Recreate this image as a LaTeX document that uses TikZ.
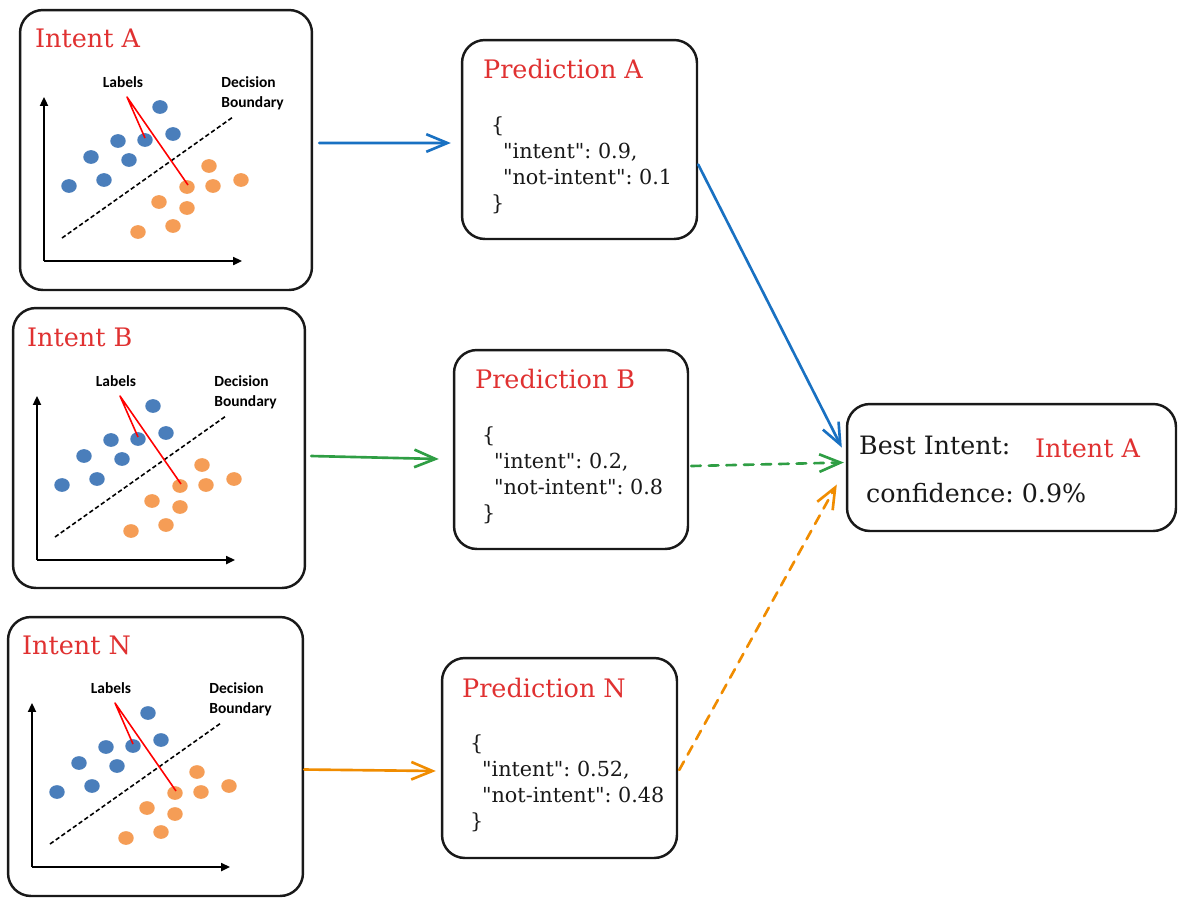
\documentclass[tikz,border=0pt]{standalone}
\usepackage{fontspec}
\setmainfont{DejaVu Serif}[Ligatures=TeXOff]
\newfontfamily\plotfont{Carlito}
\usetikzlibrary{arrows.meta,calc}
\frenchspacing
\definecolor{tred}{HTML}{E03131}
\definecolor{tblue}{HTML}{1971C2}
\definecolor{tgreen}{HTML}{2F9E44}
\definecolor{torange}{HTML}{F08C00}
\definecolor{dotblue}{HTML}{4A7EBB}
\definecolor{dotorange}{HTML}{F59D56}
\tikzset{
  card/.style={draw=black!90, line width=1.4pt, rounded corners=13pt, inner sep=0pt},
  title/.style={text=tred, font=\fontsize{14.5}{17}\selectfont, inner sep=0pt, anchor=base west},
  bodytext/.style={text=black!90, font=\fontsize{14.4}{17}\selectfont, inner sep=0pt, anchor=base west},
  json/.style={text=black!90, font=\fontsize{11.8}{14.8}\selectfont, align=left, inner sep=0pt, anchor=north west},
  plotlabel/.style={font=\plotfont\bfseries\fontsize{8.8}{11.3}\selectfont, inner sep=0pt},
  flow/.style={line width=1.5pt, line cap=round, -{Straight Barb[length=12pt,width=10pt,line width=1.5pt]}},
  scatter/.pic={
    \draw[line width=1.1pt, -{Triangle[length=5pt,width=4.5pt]}] (0,0) -- (0,-164);
    \draw[line width=1.1pt, -{Triangle[length=5pt,width=4.5pt]}] (0,0) -- (198,0);
    \draw[line width=0.9pt, dash pattern=on 2.5pt off 1.5pt] (18,-23) -- (189,-144);
    \foreach \u/\v in {116/-154, 74/-120, 101/-121, 129/-127, 47/-104, 85/-101, 25/-75, 60/-81}
      \fill[dotblue] (\u,\v) ellipse [x radius=4.4pt, y radius=3.9pt];
    \foreach \u/\v in {165/-95, 143/-74, 169/-75, 197/-81, 115/-59, 143/-53, 129/-35, 94/-29}
      \fill[dotorange] (\u,\v) ellipse [x radius=4.4pt, y radius=3.9pt];
    \node[plotlabel] (-lab) at (79,-179) {Labels};
    \node[plotlabel, anchor=north west, align=left] (-bnd) at (177,-185) {Decision\\Boundary};
    \coordinate (-tip) at (83,-164);
    \draw[red, line width=0.9pt] (101,-123) -- (-tip) -- (144,-76);
  }
}
\begin{document}
\begin{tikzpicture}[x=0.02cm, y=-0.02cm, line join=round]
\fill[white] (0,0) rectangle (1186,907);
\useasboundingbox (0,0) rectangle (1186,907);
% intent cards
\node[card, minimum width=5.84cm, minimum height=5.6cm] (iA) at (166,150) {};
\node[card, minimum width=5.84cm, minimum height=5.6cm] (iB) at (159,448) {};
\node[card, minimum width=5.9cm, minimum height=5.58cm] (iN) at (155.5,756.5) {};
\node[title] (tA) at ($(iA.north west)+(16,39)$) {Intent A};
\node[title] (tB) at ($(iB.north west)+(15,40)$) {Intent B};
\node[title] (tN) at ($(iN.north west)+(15,39)$) {Intent N};
\pic (plotA) at (44,261) {scatter};
\pic (plotB) at (37,560) {scatter};
\pic (plotN) at (32,867) {scatter};
% prediction cards
\node[card, minimum width=4.7cm, minimum height=3.98cm] (pA) at (579.5,139.5) {};
\node[card, minimum width=4.68cm, minimum height=3.98cm] (pB) at (571,449.5) {};
\node[card, minimum width=4.7cm, minimum height=4cm] (pN) at (559.5,758) {};
\node[title] (qA) at ($(pA.north west)+(22,40)$) {Prediction A};
\node[title] (qB) at ($(pB.north west)+(22,40)$) {Prediction B};
\node[title] (qN) at ($(pN.north west)+(21,41)$) {Prediction N};
\node[json] (jA) at ($(pA.north west)+(30,78)$) {\{\\\hspace*{6.8pt}"intent": 0.9,\\\hspace*{6.8pt}"not-intent": 0.1\\\}};
\node[json] (jB) at ($(pB.north west)+(29,78)$) {\{\\\hspace*{6.8pt}"intent": 0.2,\\\hspace*{6.8pt}"not-intent": 0.8\\\}};
\node[json] (jN) at ($(pN.north west)+(29,78)$) {\{\\\hspace*{6.8pt}"intent": 0.52,\\\hspace*{6.8pt}"not-intent": 0.48\\\}};
% result
\node[card, minimum width=6.58cm, minimum height=2.54cm] (best) at (1011.5,467.5) {};
\node[bodytext] (bl) at ($(best.north west)+(13,52)$) {Best Intent:};
\node[title] (bv) at ($(best.north west)+(189,55)$) {Intent A};
\node[bodytext] (bc) at ($(best.north west)+(20,100)$) {confidence: 0.9\%};
% connectors
\draw[flow, tblue] ($(iA.east)+(6,-7)$) -- ($(pA.west)+(-10,3.5)$);
\draw[flow, tgreen] ($(iB.east)+(5,8)$) -- ($(pB.west)+(-14,9.5)$);
\draw[flow, torange] ($(iN.east)+(0,13)$) -- ($(pN.west)+(-5,13)$);
\draw[flow, tblue] ($(pA.east)+(0,25)$) -- ($(best.west)+(-4,-20)$);
\draw[flow, tgreen, dash pattern=on 5.5pt off 4.5pt] ($(pB.east)+(2,16.5)$) -- ($(best.west)+(-2,-5)$);
\draw[flow, torange, dash pattern=on 5.5pt off 4.5pt] ($(pN.east)+(1,12)$) -- ($(best.west)+(-9,17)$);
\end{tikzpicture}
\end{document}
